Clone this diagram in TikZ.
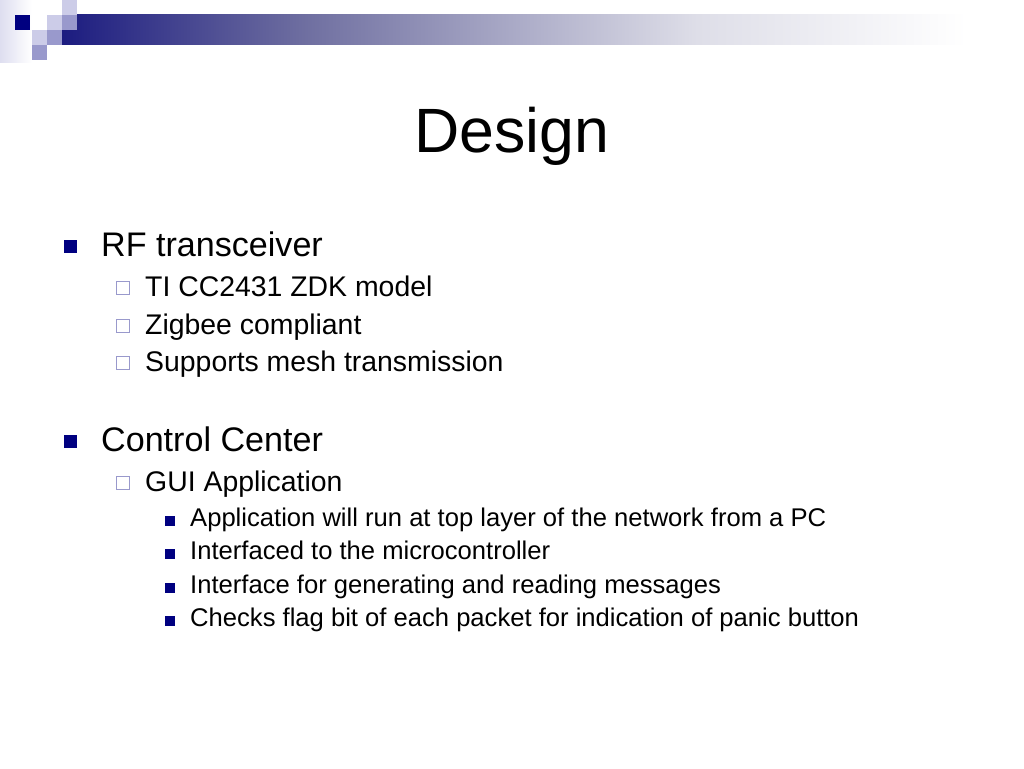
\documentclass[tikz,border=0pt]{standalone}
\usepackage{fontspec}
\setmainfont{Liberation Sans}
\usetikzlibrary{positioning}
\definecolor{slidenavy}{RGB}{0,0,128}
\definecolor{slidelav}{RGB}{153,153,204}
\definecolor{slidepale}{RGB}{204,204,232}
\definecolor{slidefaint}{RGB}{222,222,240}
\definecolor{barnavy}{RGB}{28,28,128}
\definecolor{barmid}{RGB}{110,110,160}
\definecolor{barlight}{RGB}{222,222,232}
% the path spans 25bp..75bp of the shading
\pgfdeclarehorizontalshading{barshade}{100bp}{color(0bp)=(barnavy);
  color(25bp)=(barnavy); color(37.5bp)=(barmid); color(58bp)=(barlight);
  color(72bp)=(white); color(100bp)=(white)}

\begin{document}
\begin{tikzpicture}[x=1pt,y=-1pt,
    titletext/.style={inner sep=0pt,anchor=base,font=\fontsize{62.6}{70}\selectfont},
    lvlone/.style={inner sep=0pt,anchor=base west,font=\fontsize{34.1}{40}\selectfont},
    lvltwo/.style={inner sep=0pt,anchor=base west,font=\fontsize{28.4}{34}\selectfont},
    lvlthree/.style={inner sep=0pt,anchor=base west,font=\fontsize{25.6}{30}\selectfont},
    bulone/.style={fill=slidenavy,draw=none,minimum size=13pt,inner sep=0pt,anchor=south west},
    bultwo/.style={draw=slidelav,line width=1.2pt,fill=white,minimum size=13pt,inner sep=0pt,anchor=south west},
    bulthree/.style={fill=slidenavy,draw=none,minimum size=9.5pt,inner sep=0pt,anchor=south west}]
  \useasboundingbox (0,0) rectangle (1024,768);
  \fill[white] (0,0) rectangle (1024,768);

  % corner decoration and bar
  \shade[left color=slidefaint,right color=white] (0,0) rectangle (32,62);
  \shade[shading=barshade] (62,15) rectangle (1024,45);
  \fill[slidenavy] (15,15) rectangle (30,30);
  \fill[slidepale] (62,0) rectangle (77,15);
  \fill[slidepale] (47,15) rectangle (62,30);
  \fill[slidelav] (62,15) rectangle (77,30);
  \fill[slidepale] (32,30) rectangle (47,45);
  \fill[slidelav] (47,30) rectangle (62,45);
  \fill[slidelav] (32,45) rectangle (47,60);

  % title
  \node (title) [titletext] at (512,152) {Design};

  % first block
  \node (rfb) [bulone] at (64,253) {};
  \node (rf) [lvlone] at (101,256) {RF transceiver};
  \node (tib) [bultwo] at (116,295) {};
  \node (ti) [lvltwo] at (145,296) {TI CC2431 ZDK model};
  \node (zbb) [bultwo] at (116,333) {};
  \node (zb) [lvltwo] at (145,334) {Zigbee compliant};
  \node (smb) [bultwo] at (116,370) {};
  \node (sm) [lvltwo] at (145,371) {Supports mesh transmission};

  % second block
  \node (ccb) [bulone] at (64,448) {};
  \node (cc) [lvlone] at (101,451) {Control Center};
  \node (guib) [bultwo] at (116,490) {};
  \node (gui) [lvltwo] at (145,491) {GUI Application};
  \node (appb) [bulthree] at (165,526) {};
  \node (app) [lvlthree] at (190,526) {Application will run at top layer of the network from a PC};
  \node (ifmb) [bulthree] at (165,559) {};
  \node (ifm) [lvlthree] at (190,559) {Interfaced to the microcontroller};
  \node (ifgb) [bulthree] at (165,593) {};
  \node (ifg) [lvlthree] at (190,593) {Interface for generating and reading messages};
  \node (chkb) [bulthree] at (165,626) {};
  \node (chk) [lvlthree] at (190,626) {Checks flag bit of each packet for indication of panic button};
\end{tikzpicture}
\end{document}
